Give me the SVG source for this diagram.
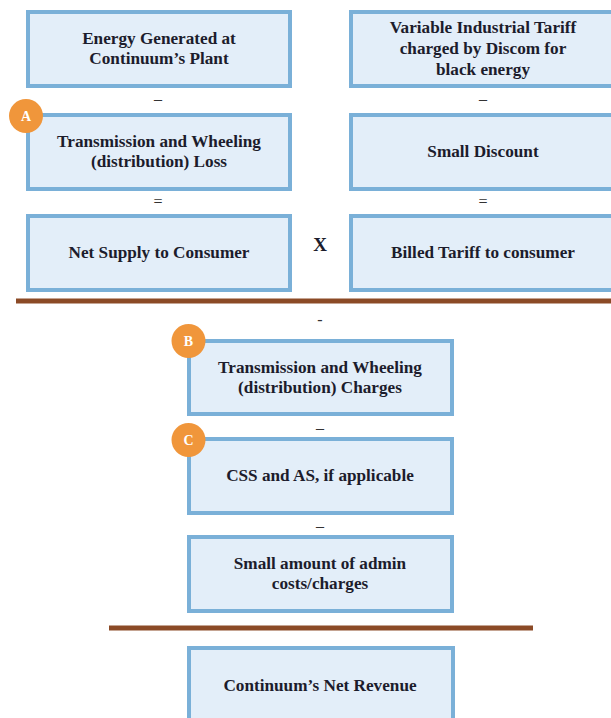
<svg xmlns="http://www.w3.org/2000/svg" width="611" height="718" viewBox="0 0 611 718">
<style>
.box{fill:#e3eef9;stroke:#7ab0d8;stroke-width:4}
.t{font-family:"Liberation Serif","Times New Roman",serif;font-weight:bold;font-size:17.2px;fill:#1c1c2c;text-anchor:middle}
.op{font-family:"Liberation Serif","Times New Roman",serif;font-size:16px;fill:#333;text-anchor:middle}
.badge{fill:#f0963b}
.bt{font-family:"Liberation Serif","Times New Roman",serif;font-weight:bold;font-size:14px;fill:#ffffff;text-anchor:middle}
.rule{stroke:#8b4a26;stroke-width:5}
</style>
<rect width="611" height="718" fill="#ffffff"/>
<g id="connectors">
<line class="rule" x1="16" y1="301" x2="611" y2="301"/>
<line class="rule" x1="109" y1="628" x2="533" y2="628"/>
<text class="op" x="158" y="104">–</text>
<text class="op" x="483" y="104">–</text>
<text class="op" x="158" y="207">=</text>
<text class="op" x="483" y="207">=</text>
<text class="op" x="320" y="251" style="font-weight:bold;font-size:19px;fill:#1c1c2c">X</text>
<text class="op" x="320" y="325">-</text>
<text class="op" x="320" y="433">–</text>
<text class="op" x="320" y="531">–</text>
</g>
<g id="energy">
<rect class="box" x="28" y="12" width="262" height="74"/>
<text class="t" x="159" y="44">Energy Generated at</text>
<text class="t" x="159" y="64">Continuum’s Plant</text>
</g>
<g id="tariff">
<rect class="box" x="351" y="12" width="270" height="74"/>
<text class="t" x="483" y="33">Variable Industrial Tariff</text>
<text class="t" x="483" y="54">charged by Discom for</text>
<text class="t" x="483" y="75">black energy</text>
</g>
<g id="loss">
<rect class="box" x="28" y="115" width="262" height="74"/>
<text class="t" x="159" y="147">Transmission and Wheeling</text>
<text class="t" x="159" y="167">(distribution) Loss</text>
<circle class="badge" cx="26" cy="116" r="17"/>
<text class="bt" x="26" y="121">A</text>
</g>
<g id="discount">
<rect class="box" x="351" y="115" width="270" height="74"/>
<text class="t" x="483" y="157">Small Discount</text>
</g>
<g id="netsupply">
<rect class="box" x="28" y="216" width="262" height="74"/>
<text class="t" x="159" y="258">Net Supply to Consumer</text>
</g>
<g id="billed">
<rect class="box" x="351" y="216" width="270" height="74"/>
<text class="t" x="483" y="258">Billed Tariff to consumer</text>
</g>
<g id="charges">
<rect class="box" x="189" y="341" width="263" height="73"/>
<text class="t" x="320" y="373">Transmission and Wheeling</text>
<text class="t" x="320" y="393">(distribution) Charges</text>
<circle class="badge" cx="188.5" cy="341" r="17"/>
<text class="bt" x="188.5" y="346">B</text>
</g>
<g id="css">
<rect class="box" x="189" y="439" width="263" height="74"/>
<text class="t" x="320" y="481">CSS and AS, if applicable</text>
<circle class="badge" cx="188.5" cy="440" r="17"/>
<text class="bt" x="188.5" y="445">C</text>
</g>
<g id="admin">
<rect class="box" x="189" y="537" width="263" height="74"/>
<text class="t" x="320" y="569">Small amount of admin</text>
<text class="t" x="320" y="589">costs/charges</text>
</g>
<g id="revenue">
<rect class="box" x="189" y="648" width="264" height="80"/>
<text class="t" x="320" y="691">Continuum’s Net Revenue</text>
</g>
</svg>
